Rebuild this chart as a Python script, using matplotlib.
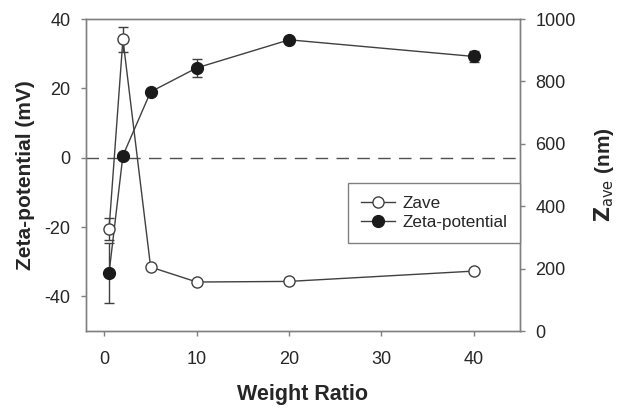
import matplotlib
matplotlib.use("Agg")
import matplotlib.pyplot as plt

plt.rcParams['font.family'] = ['Liberation Sans', 'DejaVu Sans']
plt.rcParams['axes.unicode_minus'] = False

# weight ratio on x, two series on two y axes
weight_ratio = [0.5, 2, 5, 10, 20, 40]
zeta_mv = [-33.2, 0.6, 19.0, 25.9, 34.0, 29.2]
zeta_err = [8.6, 0.0, 0.0, 2.5, 0.5, 1.5]
zave_nm = [327, 935, 205, 157, 159, 192]
zave_err = [35, 40, 0, 0, 0, 0]

spine_col = '#808080'
line_col = '#404040'
text_col = '#262626'

fig = plt.figure(figsize=(6.29, 4.16), dpi=100)
ax1 = fig.add_axes([0.1367, 0.2043, 0.69, 0.75])
ax2 = ax1.twinx()

ax1.axhline(0, color='#505050', lw=1.0, dashes=(9, 6), zorder=1)

ax1.errorbar(weight_ratio, zeta_mv, yerr=zeta_err, color=line_col, lw=1.0,
             marker='o', ms=8.5, mfc='#1a1a1a', mec='#1a1a1a',
             ecolor=line_col, elinewidth=1.0, capsize=3.6, capthick=1.0, zorder=3)
h_zeta, = ax1.plot([], [], color=line_col, lw=1.0, marker='o', ms=8.5,
                   mfc='#1a1a1a', mec='#1a1a1a')

ax2.errorbar(weight_ratio, zave_nm, yerr=zave_err, color=line_col, lw=1.0,
             marker='o', ms=8.0, mfc='white', mec=line_col, mew=1.0,
             ecolor=line_col, elinewidth=1.0, capsize=3.6, capthick=1.0, zorder=3)
h_zave, = ax2.plot([], [], color=line_col, lw=1.0, marker='o', ms=8.0,
                   mfc='white', mec=line_col, mew=1.0)

ax1.set_xlim(-2, 45)
ax1.set_ylim(-50, 40)
ax2.set_ylim(0, 1000)
ax1.set_xticks([0, 10, 20, 30, 40])
ax1.set_yticks([-40, -20, 0, 20, 40])
ax2.set_yticks([0, 200, 400, 600, 800, 1000])

for ax in (ax1, ax2):
    for sp in ax.spines.values():
        sp.set_color(spine_col)
        sp.set_linewidth(1.0)
    ax.tick_params(direction='out', length=3.6, width=1.0, color=spine_col,
                   labelsize=13, labelcolor=text_col, pad=7.5)
ax1.tick_params(axis='x', pad=10.5)

ax1.set_xlabel('Weight Ratio', fontsize=15.5, fontweight='bold', color=text_col, labelpad=11.5)
ax1.set_ylabel('Zeta-potential (mV)', fontsize=15, fontweight='bold', color=text_col, labelpad=7)
ax2.set_ylabel(r'$\mathbf{Z}_{\mathrm{ave}}$ (nm)', fontsize=15, fontweight='bold',
               color=text_col, labelpad=12)

leg = ax2.legend([h_zave, h_zeta], ['Zave', 'Zeta-potential'], loc='upper right',
                 bbox_to_anchor=(1.0, 0.475), borderaxespad=0, fancybox=False,
                 fontsize=12.3, handlelength=2.0, handletextpad=0.4, framealpha=1,
                 edgecolor=spine_col, borderpad=0.75, labelspacing=0.25)
leg.get_frame().set_linewidth(1.0)
for t in leg.get_texts():
    t.set_color(text_col)

fig.savefig('out.png', dpi=100)
